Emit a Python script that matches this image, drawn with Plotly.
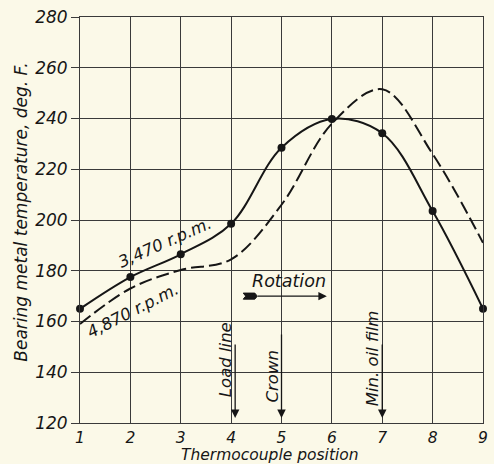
import plotly.graph_objects as go

positions = [1, 2, 3, 4, 5, 6, 7, 8, 9]
temp_3470 = [165, 177.5, 186.5, 198.5, 228.5, 239.8, 234.2, 203.5, 165]
temp_4870 = [159, 173, 180.3, 184.5, 206, 238, 251.5, 226, 191]
y_ticks = [120, 140, 160, 180, 200, 220, 240, 260, 280]
x_ticks = [1, 2, 3, 4, 5, 6, 7, 8, 9]

INK = "#161616"
BG = "#fbf9e8"
GRID = "#3a3a3a"
FONT = dict(family="DejaVu Sans", color=INK, style="italic")

fig = go.Figure()
fig.add_trace(go.Scatter(
    x=positions, y=temp_4870, mode="lines",
    line=dict(color=INK, width=2, dash="13px,5px", shape="spline", smoothing=1.0),
    cliponaxis=False, showlegend=False))
fig.add_trace(go.Scatter(
    x=positions, y=temp_3470, mode="lines+markers",
    line=dict(color=INK, width=2, shape="spline", smoothing=1.0),
    marker=dict(color=INK, size=8),
    cliponaxis=False, showlegend=False))

ann = []
# curve labels
ann.append(dict(x=2.69, y=191.0, xref="x", yref="y", text="3,470 r.p.m.", showarrow=False,
                textangle=-24, font=dict(size=16.5, **FONT)))
ann.append(dict(x=2.06, y=164.2, xref="x", yref="y", text="4,870 r.p.m.", showarrow=False,
                textangle=-27, font=dict(size=16.5, **FONT)))
# vertical arrows
for xa, y0, xt, yt, label in [(4.08, 151.5, 3.88, 144.8, "Load line"),
                              (5.0, 155.5, 4.82, 138.5, "Crown"),
                              (7.0, 151.5, 6.8, 145.6, "Min. oil film")]:
    ann.append(dict(x=xa, y=122, ax=xa, ay=y0, xref="x", yref="y", axref="x", ayref="y",
                    text="", showarrow=True, arrowhead=2, arrowsize=1.3, arrowwidth=1.3,
                    arrowcolor=INK))
    ann.append(dict(x=xt, y=yt, xref="x", yref="y", text=label, showarrow=False,
                    textangle=-90, font=dict(size=16.5, **FONT)))
# rotation arrow
ann.append(dict(x=5.9, y=170, ax=4.5, ay=170, xref="x", yref="y", axref="x", ayref="y",
                text="", showarrow=True, arrowhead=2, arrowsize=1.3, arrowwidth=1.3,
                arrowcolor=INK))
ann.append(dict(x=5.14, y=175.8, xref="x", yref="y", text="Rotation", showarrow=False,
                font=dict(size=17.5, **FONT)))
# axis titles
ann.append(dict(x=1 + (272 - 80) / 51.0, y=-(454.5 - 423) / 406.0, xref="x", yref="paper",
                yanchor="middle", text="Thermocouple position", showarrow=False,
                font=dict(size=15.5, **FONT)))
ann.append(dict(x=-(80 - 20) / 408.0, y=1 - (212 - 17) / 406.0, xref="paper", yref="paper",
                xanchor="center", yanchor="middle",
                text="Bearing metal temperature, deg. F.", showarrow=False, textangle=-90,
                font=dict(size=17, **FONT)))

shapes = [
    # feather tail of rotation arrow
    dict(type="path", xref="x", yref="y",
         path="M 4.24 168.8 L 4.47 168.8 L 4.52 170 L 4.47 171.2 L 4.24 171.2 L 4.29 170 Z",
         fillcolor=INK, line=dict(color=INK, width=1)),
]

fig.update_layout(
    width=494, height=464,
    margin=dict(l=80, r=6, t=17, b=41),
    paper_bgcolor=BG, plot_bgcolor=BG,
    annotations=ann, shapes=shapes,
    xaxis=dict(range=[1, 9], tickvals=x_ticks, ticktext=[str(v) for v in x_ticks],
               showgrid=True, gridcolor=GRID, gridwidth=0.8, zeroline=False,
               showline=True, mirror=True, linecolor=GRID, linewidth=0.8,
               ticks="", tickfont=dict(size=15.5, **FONT), ticklabelstandoff=0),
    yaxis=dict(range=[120, 280], tickvals=y_ticks, ticktext=[str(v) for v in y_ticks],
               showgrid=True, gridcolor=GRID, gridwidth=0.8, zeroline=False,
               showline=True, mirror=True, linecolor=GRID, linewidth=0.8,
               ticks="outside", ticklen=8, tickcolor=GRID, tickwidth=0.8,
               tickfont=dict(size=17, **FONT)),
)

fig.write_html("out.html", config={"displayModeBar": False},
               post_script="document.body.style.margin='0';")
